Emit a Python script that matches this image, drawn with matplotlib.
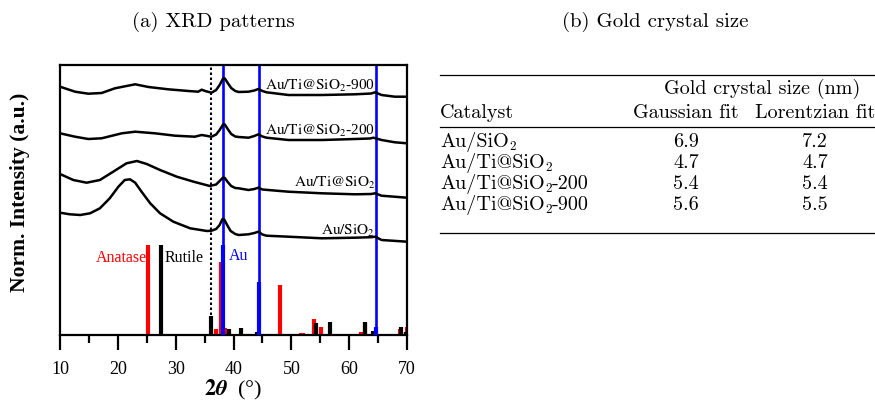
import numpy as np
import matplotlib
matplotlib.use('Agg')
import matplotlib.pyplot as plt
from matplotlib.lines import Line2D

# XRD curves (2theta in degrees, intensity in arbitrary units, offset stacked)
tt_900 = [10, 12.6, 14.9, 17.2, 19.5, 21.5, 23.0, 25.3, 28.7, 32.2, 33.9, 34.5, 35.1, 36.2, 37.0, 37.6, 38.2,
          38.5, 39.0, 39.6, 40.3, 40.9, 42.6, 43.6, 44.3, 45.0, 45.7, 49.5, 55.3, 61.0, 63.8, 64.5, 65.6, 67.9, 70]
int_900 = [248.3, 243.3, 241.3, 242, 246.7, 249, 250.7, 248, 245.7, 244, 243.3, 245.3, 244, 242.3, 245, 250, 256.5,
           256.5, 252, 247, 244, 243, 243.3, 244.5, 246, 244, 242.7, 240, 240, 240.7, 241.5, 242.7, 240, 238.3, 238.3]

tt_200 = [10, 12.6, 14.9, 17.2, 20.7, 23.0, 26.4, 29.9, 33.3, 34.5, 36.2, 37.0, 37.6, 38.2, 38.5, 39.0, 39.6,
          40.3, 40.9, 42.6, 43.6, 44.3, 45.0, 45.7, 49.5, 55.3, 61.0, 63.6, 64.2, 65.6, 67.9, 70]
int_200 = [201.7, 198.3, 196, 196.7, 201.7, 203.3, 201.7, 199.3, 198.3, 200, 198.3, 200.5, 205, 210.5, 210.5, 206, 201,
           198.5, 198, 197.3, 199, 200.7, 198.5, 197.3, 195, 195, 196, 196.5, 197.3, 195, 192.7, 191.7]

tt_ti = [10, 12.3, 14.6, 16.9, 19.2, 21.5, 23.3, 25.0, 27.3, 30.2, 33.1, 35.9, 37.0, 37.6, 38.2, 38.5, 39.0,
         39.6, 40.3, 40.9, 42.6, 43.6, 44.3, 45.0, 46.0, 49.5, 55.3, 61.0, 63.8, 64.5, 65.6, 70]
int_ti = [161, 155, 152.3, 155, 163.3, 171.7, 174, 171, 165, 158.3, 153.3, 149, 150.5, 154, 157.5, 157, 153,
          149, 147, 146.7, 145, 146, 147.3, 145.5, 145, 143.3, 141.7, 140.7, 141, 141.7, 139.3, 137.3]

tt_si = [10, 11.7, 13.5, 15.2, 16.9, 18.6, 20.1, 21.2, 22.1, 23.0, 24.1, 25.6, 27.3, 29.6, 32.5, 35.4, 36.2,
         37.0, 37.6, 38.1, 38.4, 38.9, 39.5, 40.3, 40.9, 42.6, 43.6, 44.3, 45.0, 45.7, 49.5, 55.3, 61.0, 63.8,
         64.5, 65.6, 70]
int_si = [122.3, 120.7, 120, 121.7, 126.7, 136.7, 148.3, 155, 155.7, 152.3, 143.3, 131.7, 121.7, 113.3, 106.7, 104,
          104.3, 106, 110, 116, 115.5, 110, 104, 101, 100, 100.7, 102, 103.3, 100.5, 99.3, 98.3, 96.7, 97.3, 97.8,
          98.3, 95, 93.3]

curve_names = [r'$\mathrm{Au/Ti@SiO_2}$-900', r'$\mathrm{Au/Ti@SiO_2}$-200',
               r'$\mathrm{Au/Ti@SiO_2}$', r'$\mathrm{Au/SiO_2}$']
label_y = [249, 204, 152, 104]

# reference sticks
anatase_pos = [25.3, 36.95, 37.8, 38.57, 48.05, 51.7, 52.1, 53.89, 55.06, 62.12, 62.69, 68.76, 69.95]
anatase_h = [90, 6, 73, 7, 50, 2, 2, 16, 8, 3, 12, 6, 8]
rutile_pos = [27.44, 36.08, 39.19, 41.23, 44.05, 54.32, 56.64, 62.75, 64.04, 65.5, 69.01, 69.79]
rutile_h = [90, 19, 6, 7, 3, 12, 13, 13, 4, 1, 8, 3]
au_pos = [38.18, 44.39, 64.58]
au_h = [90, 53, 8]
ref_line = 36.1

# table (catalyst name = base + subscript 2 + suffix)
row_base = ['Au/SiO', 'Au/Ti@SiO', 'Au/Ti@SiO', 'Au/Ti@SiO']
row_tail = ['', '', '-200', '-900']
gauss = ['6.9', '4.7', '5.4', '5.6']
lorentz = ['7.2', '4.7', '5.4', '5.5']

W, H = 875, 401
fig = plt.figure(figsize=(W / 100, H / 100), dpi=100)
ax = fig.add_axes([60 / W, 1 - 335 / H, (407 - 60) / W, (335 - 65) / H])

times = 'Liberation Serif'
red, blue = '#ff0000', '#0000ff'

ax.vlines(anatase_pos, 0, anatase_h, color=red, lw=3, zorder=2)
ax.vlines(rutile_pos, 0, rutile_h, color='black', lw=3, zorder=2)
ax.vlines(au_pos, 0, au_h, color=blue, lw=3, zorder=3)
ax.axvline(ref_line, color='black', ls=(0, (1.2, 1.2)), lw=1.5, zorder=1)
for p in au_pos:
    ax.axvline(p, color=blue, lw=1.9, zorder=1)

for tt, yy in [(tt_900, int_900), (tt_200, int_200), (tt_ti, int_ti), (tt_si, int_si)]:
    ax.plot(tt, yy, color='black', lw=1.8, zorder=4, solid_joinstyle='round')

for name, ly in zip(curve_names, label_y):
    ax.text(64.5, ly, name, ha='right', va='center', fontsize=11, family=times,
            math_fontfamily='stix', zorder=5)

ax.text(25.0, 77, 'Anatase', color=red, ha='right', va='center', fontsize=11.5, family=times)
ax.text(28.0, 77, 'Rutile', color='black', ha='left', va='center', fontsize=11.5, family=times)
ax.text(39.2, 79, 'Au', color=blue, ha='left', va='center', fontsize=11.5, family=times)

ax.set_xlim(10, 70)
ax.set_ylim(0, 270)
ax.set_xticks(np.arange(10, 71, 10))
ax.set_xticks(np.arange(15, 70, 10), minor=True)
ax.set_yticks([])
ax.tick_params(axis='x', which='major', direction='out', length=11, width=1.6, labelsize=13, pad=8)
ax.tick_params(axis='x', which='minor', direction='out', length=6, width=1.6)
for lab in ax.get_xticklabels():
    lab.set_family(times)
for s in ax.spines.values():
    s.set_linewidth(1.6)

ax.set_xlabel(r'$\mathbf{2}\mathbfit{\theta}$  (°)', fontsize=16, family=times, math_fontfamily='stix', labelpad=0)
ax.set_ylabel('Norm. Intensity (a.u.)', fontsize=15.5, fontweight='bold', family=times, va='center')
ax.yaxis.set_label_coords(-0.115, 0.53)

# titles
cm = 'cmr10'
fs = 14.5
fig.text(213 / W, 1 - 22 / H, '(a) XRD patterns', ha='center', va='center', fontsize=15, family=cm)
fig.text(655 / W, 1 - 22 / H, '(b) Gold crystal size', ha='center', va='center', fontsize=15, family=cm)

# table, drawn on an invisible full-figure axes
tab = fig.add_axes([0, 0, 1, 1])
tab.axis('off')
tab.set_xlim(0, 1)
tab.set_ylim(0, 1)

def rule(py):
    tab.add_line(Line2D([440 / W, 1.0], [1 - py / H, 1 - py / H], color='black', lw=0.9))

rule(75)
rule(127)
rule(233)
tab.text(762 / W, 1 - 89 / H, 'Gold crystal size (nm)', ha='center', va='center', fontsize=fs, family=cm)
tab.text(440 / W, 1 - 113 / H, 'Catalyst', ha='left', va='center', fontsize=fs, family=cm)
tab.text(686 / W, 1 - 113 / H, 'Gaussian fit', ha='center', va='center', fontsize=fs, family=cm)
tab.text(815 / W, 1 - 113 / H, 'Lorentzian fit', ha='center', va='center', fontsize=fs, family=cm)

row_y = [142, 163, 184, 205]
for base, tail, g, l, py in zip(row_base, row_tail, gauss, lorentz, row_y):
    t_base = tab.text(440 / W, 1 - py / H, base, ha='left', va='center', fontsize=fs, family=cm)
    t_sub = tab.annotate('2', xy=(1.0, 0.5), xycoords=t_base, xytext=(0.3, -3.3), textcoords='offset points',
                         ha='left', va='center', fontsize=9.5, family=cm)
    if tail:
        tab.annotate(tail, xy=(1.0, 0.5), xycoords=(t_sub, t_base), xytext=(0.3, 0), textcoords='offset points',
                     ha='left', va='center', fontsize=fs, family=cm)
    tab.text(686 / W, 1 - py / H, g, ha='center', va='center', fontsize=fs, family=cm)
    tab.text(815 / W, 1 - py / H, l, ha='center', va='center', fontsize=fs, family=cm)

fig.savefig('out.png', dpi=100)
